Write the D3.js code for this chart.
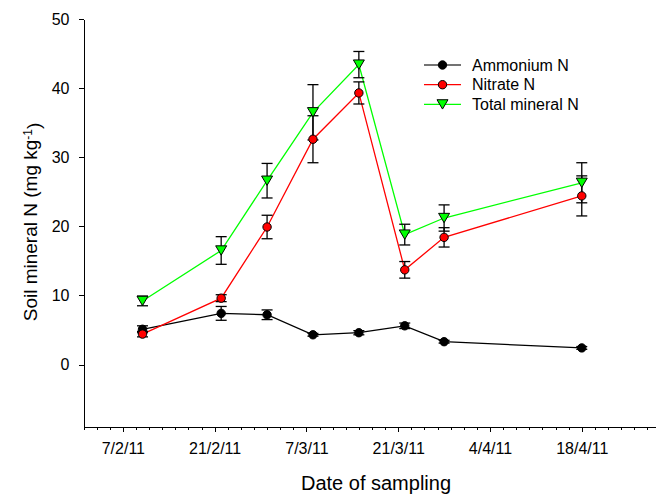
<!DOCTYPE html>
<html>
<head>
<meta charset="utf-8">
<script src="https://cdn.jsdelivr.net/npm/d3@7"></script>
<style>
	body { margin: 0; background: #fff; }
	svg { display: block; font-family: Arial, 'Liberation Sans', sans-serif; }
	.axis text { font-size: 16px; fill: #000; }
	.axis path, .axis line { stroke: #000; stroke-width: 1; shape-rendering: crispEdges; }
	.legend text { font-size: 16px; }
</style>
</head>
<body>
<div id="chart"></div>
<script>
// Global vars
var sampleDates = ['10/2/11', '22/2/11', '1/3/11', '8/3/11', '15/3/11', '22/3/11', '28/3/11', '18/4/11'];

var ammonium = [5.1, 7.4, 7.2, 4.3, 4.6, 5.6, 3.3, 2.4];
var ammoniumErr = [0.5, 1.0, 0.7, 0.2, 0.3, 0.4, 0.2, 0.2];

var nitrate = [4.4, 9.6, 19.9, 32.6, 39.3, 13.7, 18.4, 24.4];
var nitrateErr = [0.4, 0.5, 1.7, 3.4, 1.6, 1.2, 1.4, 2.9];

var totalN = [9.2, 16.5, 26.6, 36.5, 43.4, 18.8, 21.2, 26.3];
var totalErr = [0.7, 2.0, 2.5, 4.0, 1.9, 1.5, 1.9, 2.9];

var xTickLabels = ['7/2/11', '21/2/11', '7/3/11', '21/3/11', '4/4/11', '18/4/11'];
var yTickValues = [0, 10, 20, 30, 40, 50];

var xStart = '1/2/11';
var xEnd = '1/5/11';

var seriesNames = ['Ammonium N', 'Nitrate N', 'Total mineral N'];

var parseDate = d3.timeParse('%d/%m/%y');
var fmtDate = d3.timeFormat('%-d/%-m/%y');

/*
 * Render the graphic.
 */
var render = function() {
	var width = 656;
	var height = 498;

	var margins = {
		top: 19,
		left: 83.5
	};

	var chartWidth = 583.5;
	var chartHeight = 407.7;

	var series = [
		{ name: seriesNames[0], values: ammonium, err: ammoniumErr, color: '#000000', marker: 'circle' },
		{ name: seriesNames[1], values: nitrate, err: nitrateErr, color: '#ff0000', marker: 'circle' },
		{ name: seriesNames[2], values: totalN, err: totalErr, color: '#00ff00', marker: 'triangle' }
	];

	var dates = sampleDates.map(parseDate);

	var xScale = d3
		.scaleTime()
		.domain([parseDate(xStart), parseDate(xEnd)])
		.range([0, chartWidth]);

	var yScale = d3
		.scaleLinear()
		.domain([-9, 50])
		.range([chartHeight, 0]);

	var svg = d3
		.select('#chart')
		.append('svg')
		.attr('width', width)
		.attr('height', height);

	var chartElement = svg
		.append('g')
		.attr('transform', 'translate(' + margins.left + ',' + margins.top + ')');

	/*
	 * Axes
	 */
	var minorTicks = d3.timeDay.range(parseDate(xStart), parseDate(xEnd), 2);

	chartElement
		.append('g')
		.attr('class', 'x axis minor')
		.attr('transform', 'translate(0,' + chartHeight + ')')
		.call(
			d3.axisBottom(xScale)
				.tickValues(minorTicks)
				.tickSizeInner(3)
				.tickSizeOuter(0)
				.tickFormat('')
		);

	chartElement
		.append('g')
		.attr('class', 'x axis')
		.attr('transform', 'translate(0,' + chartHeight + ')')
		.call(
			d3.axisBottom(xScale)
				.tickValues(xTickLabels.map(parseDate))
				.tickSizeInner(5)
				.tickSizeOuter(0)
				.tickPadding(11)
				.tickFormat(fmtDate)
		);

	chartElement
		.append('g')
		.attr('class', 'y axis')
		.call(
			d3.axisLeft(yScale)
				.tickValues(yTickValues)
				.tickSizeInner(5)
				.tickSizeOuter(0)
				.tickPadding(9)
		);

	/*
	 * Lines, error bars, markers
	 */
	var line = d3
		.line()
		.x(function(d, i) {
			return xScale(dates[i]);
		})
		.y(function(d) {
			return yScale(d);
		});

	series.forEach(function(s) {
		chartElement
			.append('path')
			.attr('fill', 'none')
			.attr('stroke', s.color)
			.attr('stroke-width', 1.3)
			.attr('d', line(s.values));
	});

	series.forEach(function(s) {
		var bars = chartElement
			.append('g')
			.attr('class', 'errors')
			.attr('stroke', '#000')
			.attr('stroke-width', 1.3)
			.selectAll('g')
			.data(s.values)
			.enter()
			.append('g');

		bars.append('line')
			.attr('x1', function(d, i) { return xScale(dates[i]); })
			.attr('x2', function(d, i) { return xScale(dates[i]); })
			.attr('y1', function(d, i) { return yScale(d + s.err[i]); })
			.attr('y2', function(d, i) { return yScale(d - s.err[i]); });

		[1, -1].forEach(function(sign) {
			bars.append('line')
				.attr('x1', function(d, i) { return xScale(dates[i]) - 5.5; })
				.attr('x2', function(d, i) { return xScale(dates[i]) + 5.5; })
				.attr('y1', function(d, i) { return yScale(d + sign * s.err[i]); })
				.attr('y2', function(d, i) { return yScale(d + sign * s.err[i]); });
		});
	});

	var triangle = function(x, y, size) {
		var h = size * 0.85;
		return 'M' + (x - size / 2) + ',' + (y - h / 2) +
			'L' + (x + size / 2) + ',' + (y - h / 2) +
			'L' + x + ',' + (y + h / 2) + 'Z';
	};

	var drawMarker = function(g, s, x, y) {
		if (s.marker == 'circle') {
			g.append('circle')
				.attr('cx', x)
				.attr('cy', y)
				.attr('r', 4.2)
				.attr('fill', s.color)
				.attr('stroke', '#000')
				.attr('stroke-width', 1);
		} else {
			g.append('path')
				.attr('d', triangle(x, y, 11))
				.attr('fill', s.color)
				.attr('stroke', '#000')
				.attr('stroke-width', 1);
		}
	};

	series.forEach(function(s) {
		var g = chartElement.append('g').attr('class', 'markers');
		s.values.forEach(function(d, i) {
			drawMarker(g, s, xScale(dates[i]), yScale(d));
		});
	});

	/*
	 * Legend
	 */
	var legend = svg
		.append('g')
		.attr('class', 'legend')
		.attr('transform', 'translate(424,65)');

	series.forEach(function(s, i) {
		var row = legend.append('g').attr('transform', 'translate(0,' + i * 19.7 + ')');

		row.append('line')
			.attr('x1', 0)
			.attr('x2', 37)
			.attr('y1', 0)
			.attr('y2', 0)
			.attr('stroke', s.color == '#000000' ? '#444' : s.color)
			.attr('stroke-width', 1.3);

		drawMarker(row, s, 18.5, 0);

		row.append('text')
			.attr('x', 48)
			.attr('y', 0)
			.attr('dy', '0.36em')
			.text(s.name);
	});

	/*
	 * Axis titles
	 */
	svg.append('text')
		.attr('x', 376)
		.attr('y', 490)
		.attr('text-anchor', 'middle')
		.style('font-size', '20px')
		.text('Date of sampling');

	var yTitle = svg
		.append('text')
		.attr('transform', 'translate(37,222) rotate(-90)')
		.attr('text-anchor', 'middle')
		.style('font-size', '19px');

	yTitle.append('tspan').text('Soil mineral N (mg kg');
	yTitle.append('tspan').attr('dy', '-0.45em').style('font-size', '12px').text('-1');
	yTitle.append('tspan').attr('dy', '0.45em').text(')');
};

window.onload = render;
</script>
</body>
</html>
